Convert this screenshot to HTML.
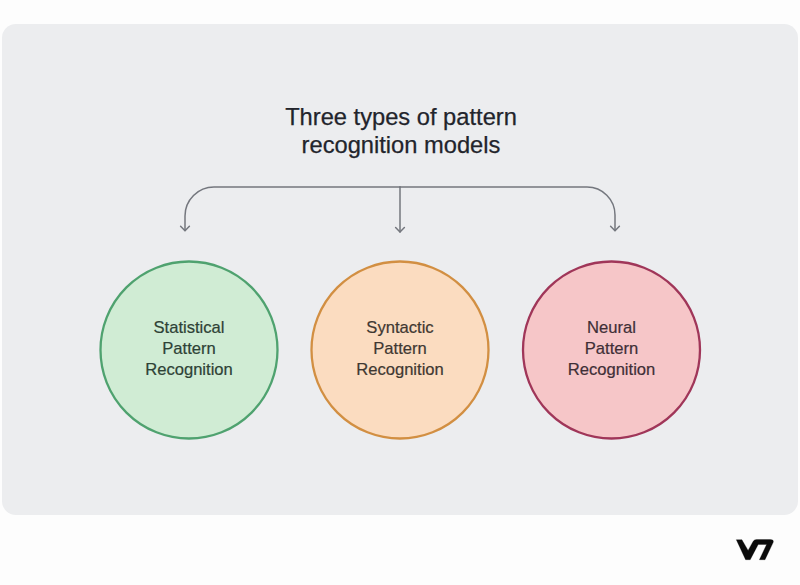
<!DOCTYPE html>
<html>
<head>
<meta charset="utf-8">
<style>
html,body{margin:0;padding:0;background:#fdfdfd;}
body{width:800px;height:585px;position:relative;overflow:hidden;font-family:"Liberation Sans",sans-serif;}
.card{position:absolute;left:1.5px;top:24.3px;width:796px;height:491px;background:#ecedef;border-radius:14px;}
.title{position:absolute;left:0;width:802px;top:103px;text-align:center;font-size:23.7px;line-height:28px;color:#22242b;-webkit-text-stroke:0.25px #22242b;}
.ct{position:absolute;width:180px;text-align:center;font-size:16.6px;line-height:21px;top:316.7px;color:#363a3e;-webkit-text-stroke:0.2px currentColor;}
svg{position:absolute;left:0;top:0;}
</style>
</head>
<body>
<div class="card"></div>
<svg width="800" height="585" viewBox="0 0 800 585">
  <g fill="none" stroke="#74777e" stroke-width="1.5" stroke-linecap="round" stroke-linejoin="round">
    <path d="M400 187 H587 A28 28 0 0 1 615 215 V230.5"/>
    <path d="M400 187 H214 A29 29 0 0 0 185 216 V230.5"/>
    <path d="M400 187 V232"/>
    <path d="M180.6 226.3 L185 230.8 L189.4 226.3"/>
    <path d="M395.6 227.5 L400 232 L404.4 227.5"/>
    <path d="M610.6 226.3 L615 230.8 L619.4 226.3"/>
  </g>
  <circle cx="189" cy="350" r="88.5" fill="#d0ecd4" stroke="#4fa26f" stroke-width="2.3"/>
  <circle cx="400" cy="350" r="88.5" fill="#fbdcc0" stroke="#d28f42" stroke-width="2.3"/>
  <circle cx="611.5" cy="350" r="88.5" fill="#f6c6c8" stroke="#a03659" stroke-width="2.3"/>
  <path fill="#0b0b0b" stroke="#0b0b0b" stroke-width="0.3" stroke-linejoin="round" d="M736.3 539.7 L741.9 539.7 L748.1 550.4 L753.2 541.2 Q754.2 539.5 756.5 539.5 L770.3 539.5 Q774.2 539.6 773.1 542.6 L765 559.7 L759.4 559.7 L766.6 544.5 L758.2 544.5 L750.2 559.7 L745.6 559.7 Z"/>
</svg>
<div class="title">Three types of pattern<br>recognition models</div>
<div class="ct" style="left:99px;color:#2e4236">Statistical<br>Pattern<br>Recognition</div>
<div class="ct" style="left:310px;color:#3f3832">Syntactic<br>Pattern<br>Recognition</div>
<div class="ct" style="left:521.5px;color:#3f2f37">Neural<br>Pattern<br>Recognition</div>
</body>
</html>
